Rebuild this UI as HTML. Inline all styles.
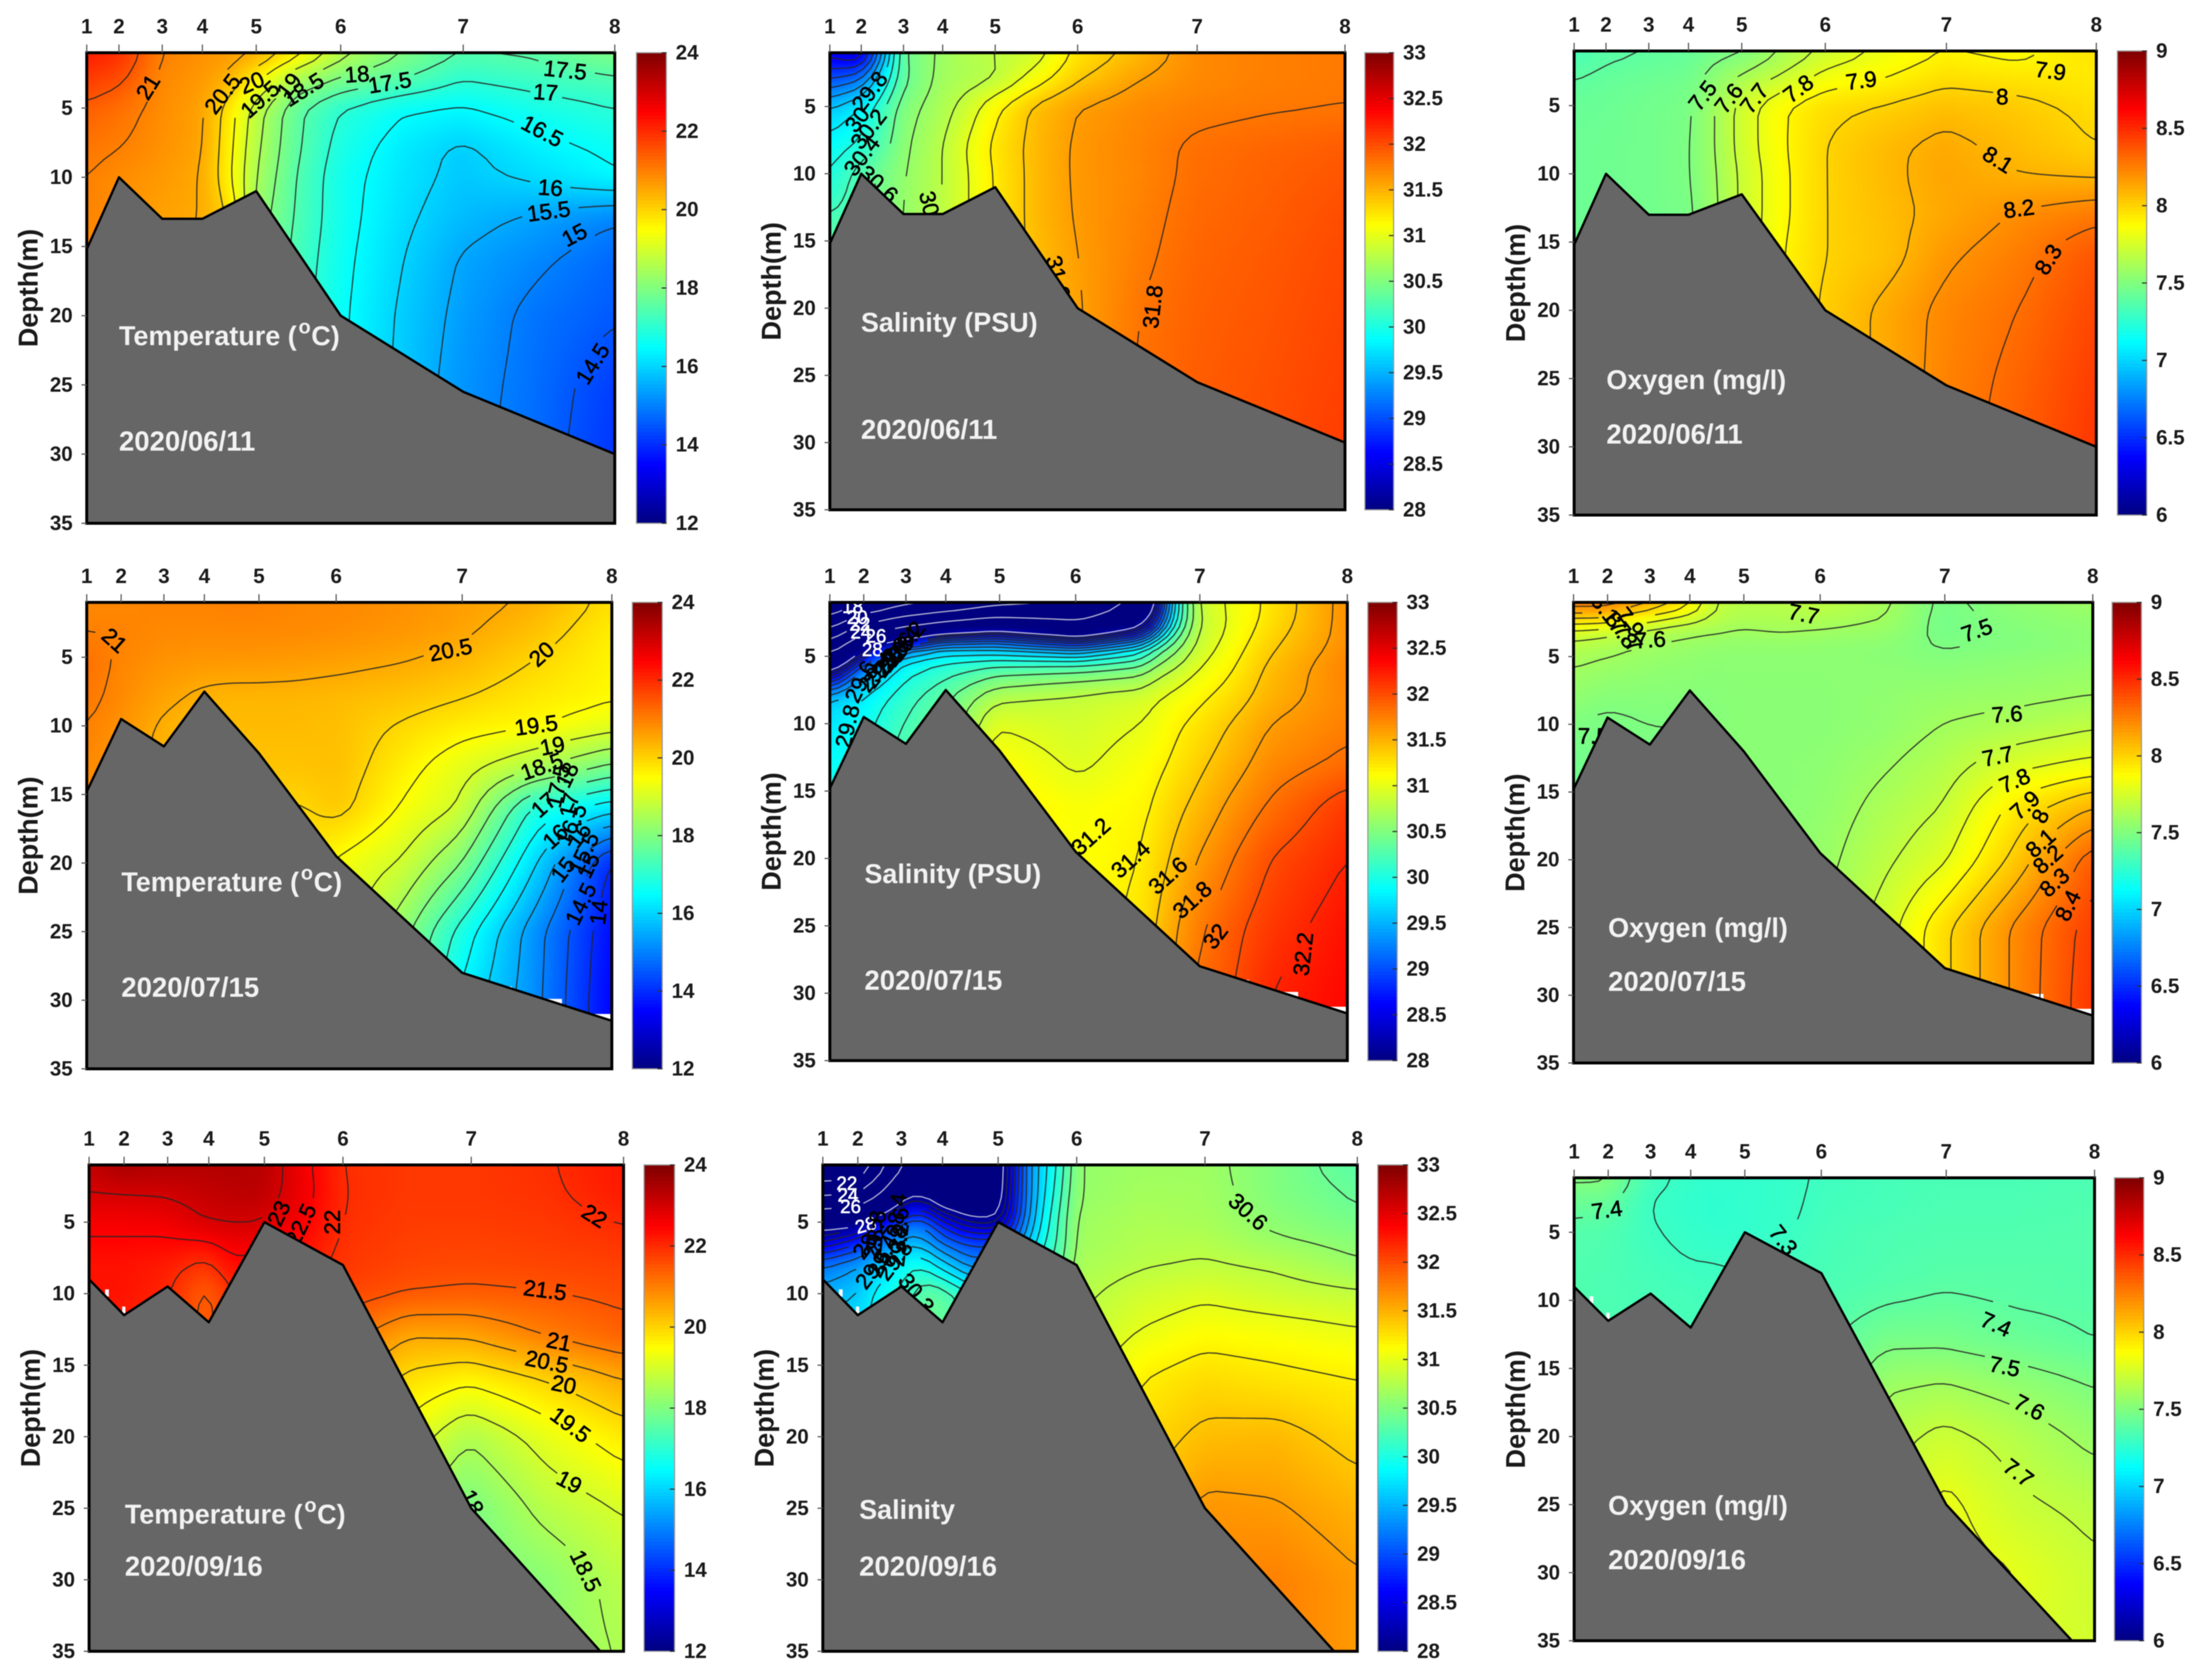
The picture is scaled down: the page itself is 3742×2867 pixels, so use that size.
<!DOCTYPE html>
<html lang="en">
<head>
<meta charset="utf-8">
<title>Temperature, salinity and oxygen sections</title>
<style>
html,body{margin:0;padding:0;background:#fff;width:3742px;height:2867px;overflow:hidden}
svg{display:block;font-family:"Liberation Sans",Arial,sans-serif;filter:blur(0.9px)}
</style>
</head>
<body>
<svg id="fig" xmlns="http://www.w3.org/2000/svg" width="3742" height="2867" viewBox="0 0 3742 2867"></svg>
<script>
/* ---------- shared axis data ---------- */
const stationNames=["1","2","3","4","5","6","7","8"];
const stationsJune=[0,.061,.143,.219,.321,.481,.713,1];
const stationsLater=[0,.0655,.147,.224,.328,.475,.715,1];
const depthTicks=[5,10,15,20,25,30,35];
const tempTicks=[12,14,16,18,20,22,24];
const salTicks=[28,28.5,29,29.5,30,30.5,31,31.5,32,32.5,33];
const oxyTicks=[6,6.5,7,7.5,8,8.5,9];

/* ---------- seabed depth at each station ---------- */
const groundJune=[15.2,10,13,13,11,20,25.5,30];
const groundJuneOxy=[15.2,10,13,13,11.5,20,25.5,30];
const groundJuly=[14.8,9.5,11.5,7.5,12,19.5,28,31.5];
const groundSept=[9,11.5,9.5,12,5,8,25,36.8];

/* ---------- standard sampling grid (section fraction, depth in m) ---------- */
const colsStd=[0,.06,.14,.22,.27,.32,.40,.48,.60,.71,.85,1];
const depthsStd=[1,3,5,8,10,13,16,20,25,30,35];

/* ---------- measured fields ---------- */
const tempJune=[
[22.2,22,21,20.8,20.7,20.5,19.7,18.7,18,17.5,17.6,18],
[21.8,21.6,20.9,20.7,20.4,19.6,18.4,17.9,17.5,17,17.2,17.4],
[21.4,21.2,20.85,20.6,19.75,18.75,17.6,17,16.55,16.45,16.75,17],
[21.1,21,20.8,20.55,19.65,18.6,17.55,16.8,16.25,15.9,16.3,16.6],
[21,20.85,20.7,20.5,19.6,18.5,17.45,16.7,16.2,15.85,16.1,16.45],
[20.95,20.8,20.6,20.5,20,18.3,17.4,16.7,16.1,15.7,15.4,15.05],
[20.9,20.8,20.6,20.4,19.5,18.2,17.3,16.65,16,15.45,15.1,14.7],
[20.9,20.8,20.6,20.4,19.5,18,17.2,16.6,15.9,15.35,14.85,14.55],
[20.9,20.8,20.6,20.4,19.5,18,17.2,16.6,15.85,15.25,14.8,14.2],
[20.9,20.8,20.6,20.4,19.5,18,17.2,16.6,15.8,15.2,14.75,14.1],
[20.9,20.8,20.6,20.4,19.5,18,17.2,16.6,15.8,15.2,14.7,14.1]];
const salJune=[
[28.5,28.3,30.4,30.65,30.75,30.8,30.9,31.25,31.47,31.7,31.75,31.78],
[29,29.2,30.35,30.68,30.72,30.78,31.1,31.38,31.6,31.7,31.75,31.78],
[29.6,29.8,30.5,30.72,30.9,31.15,31.45,31.6,31.7,31.75,31.78,31.8],
[29.9,30.05,30.55,30.8,31.03,31.25,31.47,31.63,31.73,31.83,31.88,31.93],
[30,30.3,30.58,30.8,31,31.22,31.47,31.63,31.72,31.84,31.9,31.96],
[30.2,30.3,30.6,30.8,31,31.22,31.47,31.62,31.74,31.86,31.92,32],
[30.4,30.4,30.6,30.8,31,31.25,31.45,31.6,31.76,31.88,31.94,32.02],
[30.4,30.4,30.6,30.8,31,31.25,31.45,31.58,31.8,31.9,31.96,32.04],
[30.4,30.4,30.6,30.8,31,31.25,31.45,31.58,31.82,31.92,31.98,32.06],
[30.4,30.4,30.6,30.8,31,31.25,31.45,31.58,31.82,31.92,32,32.08],
[30.4,30.4,30.6,30.8,31,31.25,31.45,31.58,31.82,31.92,32,32.08]];
const oxyJune=[
[7.33,7.38,7.4,7.42,7.47,7.48,7.61,7.72,7.83,7.9,7.87,7.96],
[7.4,7.42,7.44,7.46,7.54,7.62,7.72,7.84,7.9,7.97,7.95,7.93],
[7.43,7.44,7.46,7.48,7.6,7.74,7.89,7.97,8.01,8.06,8.03,7.97],
[7.44,7.45,7.46,7.49,7.6,7.74,7.89,8,8.08,8.13,8.07,8],
[7.44,7.45,7.46,7.49,7.59,7.72,7.88,8,8.08,8.14,8.1,8.08],
[7.44,7.45,7.46,7.48,7.58,7.72,7.88,8,8.07,8.13,8.21,8.27],
[7.44,7.45,7.46,7.48,7.58,7.72,7.9,8,8.06,8.18,8.26,8.38],
[7.44,7.45,7.46,7.48,7.58,7.72,7.9,8.02,8.13,8.23,8.3,8.42],
[7.44,7.45,7.46,7.48,7.58,7.72,7.9,8.02,8.13,8.24,8.33,8.45],
[7.44,7.45,7.46,7.48,7.58,7.72,7.9,8.02,8.14,8.25,8.35,8.47],
[7.44,7.45,7.46,7.48,7.58,7.72,7.9,8.02,8.14,8.25,8.35,8.47]];
const tempJuly=[
[20.9,20.9,20.95,20.95,21,21,20.9,20.9,20.8,20.65,20.45,19.85],
[20.98,20.98,20.9,20.9,20.9,20.9,20.9,20.85,20.75,20.6,20.25,19.7],
[21.2,20.95,20.8,20.75,20.75,20.75,20.7,20.65,20.55,20.4,20.02,19.62],
[21.1,20.9,20.6,20.4,20.35,20.35,20.35,20.3,20.2,20.02,19.75,19.55],
[21,20.8,20.45,20.3,20.3,20.3,20.3,20.25,19.95,19.7,19.55,19.2],
[20.9,20.7,20.4,20.2,20.2,20.2,20.2,20.25,19.7,19.2,18.6,17.9],
[20.85,20.65,20.35,20.15,20.15,20.1,19.95,20.15,19.45,18.95,16.9,16.2],
[20.8,20.6,20.3,20.1,20.1,20,19.9,19.4,18.95,18.05,16.1,13.9],
[20.8,20.6,20.3,20.1,20.1,20,19.8,19.3,18.2,16.85,15.25,13.6],
[20.8,20.6,20.3,20.1,20.1,20,19.8,19.3,18,16.4,15.2,13.5],
[20.8,20.6,20.3,20.1,20.1,20,19.8,19.3,18,16.4,15.2,13.5]];
const colsSalJuly=[0,.06,.14,.22,.32,.48,.6,.63,.66,.71,.78,.85,1];
const depthsSalJuly=[1,2,3,4,5,6,8,10,13,16,20,25,30,35];
const salJuly=[
[18,20,21,22,23,24,26.5,28,29.7,30.85,31.05,31.25,31.68],
[20,22,24,25,26,25.5,27.5,28.6,29.7,30.8,31.05,31.25,31.68],
[22,25,26.5,27.5,28,27,28,28.9,30,30.8,31.05,31.3,31.68],
[24.5,27.5,28.7,29.3,29.3,28.9,29.6,30.1,30.4,30.85,31.1,31.35,31.68],
[26.5,28.5,29.7,29.9,29.9,29.8,30.1,30.4,30.6,30.9,31.15,31.4,31.72],
[28,29.3,29.9,30.1,30.3,30.4,30.5,30.7,30.8,31,31.2,31.45,31.75],
[29.6,29.8,30.1,30.35,30.75,30.85,30.92,30.98,31.05,31.15,31.3,31.5,31.72],
[29.75,29.9,30.2,30.4,30.98,30.9,31,31.05,31.15,31.25,31.42,31.6,31.75],
[29.9,30,30.3,30.5,31.15,30.96,31.1,31.15,31.22,31.35,31.52,31.7,31.85],
[30,30.1,30.3,30.5,31.2,31.1,31.15,31.22,31.32,31.45,31.65,31.82,32.1],
[30,30.1,30.3,30.5,31.2,31.1,31.2,31.3,31.42,31.6,31.8,32,32.2],
[30,30.1,30.3,30.5,31.2,31.1,31.25,31.4,31.55,31.75,31.95,32.1,32.3],
[30,30.1,30.3,30.5,31.2,31.1,31.3,31.45,31.6,31.85,32,32.2,32.35],
[30,30.1,30.3,30.5,31.2,31.1,31.3,31.45,31.6,31.85,32,32.2,32.35]];
const depthsOxyJuly=[1,2,3,4,5,8,10,13,16,20,25,30,35];
const oxyJuly=[
[8.3,8.3,8.15,7.95,7.7,7.67,7.68,7.7,7.62,7.48,7.55,7.6],
[8.05,8.05,7.9,7.8,7.7,7.64,7.63,7.65,7.6,7.47,7.52,7.55],
[7.78,7.75,7.68,7.62,7.62,7.6,7.63,7.6,7.58,7.47,7.52,7.55],
[7.68,7.65,7.6,7.58,7.56,7.55,7.55,7.55,7.53,7.49,7.5,7.53],
[7.62,7.6,7.57,7.55,7.54,7.54,7.54,7.54,7.53,7.51,7.53,7.55],
[7.55,7.52,7.52,7.52,7.52,7.53,7.53,7.53,7.55,7.57,7.58,7.6],
[7.5,7.48,7.5,7.5,7.52,7.53,7.53,7.53,7.55,7.6,7.63,7.68],
[7.46,7.46,7.48,7.5,7.52,7.53,7.53,7.54,7.59,7.65,7.77,7.83],
[7.46,7.46,7.48,7.5,7.52,7.53,7.53,7.55,7.63,7.7,7.93,8.09],
[7.46,7.46,7.48,7.5,7.52,7.53,7.54,7.57,7.68,7.78,8.03,8.36],
[7.46,7.46,7.48,7.5,7.52,7.53,7.55,7.6,7.75,7.97,8.22,8.45],
[7.46,7.46,7.48,7.5,7.52,7.53,7.55,7.6,7.75,7.97,8.22,8.47],
[7.46,7.46,7.48,7.5,7.52,7.53,7.55,7.6,7.75,7.97,8.22,8.47]];
const tempSept=[
[23.2,23.55,23.4,23.4,23.4,23.4,22.65,21.95,21.85,21.85,21.95,22.25],
[23,23,23.05,23.2,23.3,23.3,22.7,21.98,21.85,21.85,21.92,22.2],
[22.6,22.6,22.65,23,23.02,23,22.55,21.95,21.8,21.8,21.85,22.02],
[22.3,22.3,22.2,21.85,22.4,22.3,22.2,21.85,21.7,21.65,21.7,21.75],
[22.3,22.3,22.1,21.35,22,22.1,22,21.7,21.48,21.42,21.48,21.6],
[22.2,22.1,22,21.3,21.9,22,21.9,21.2,20.5,20.55,21,21.35],
[22.1,22,21.9,21.3,21.8,21.8,21.5,20.5,19.85,19.6,20,20.5],
[22,22,21.8,21.3,21.7,21.6,21,20,19.3,18.55,19.2,19.75],
[22,22,21.8,21.3,21.7,21.6,20.5,19.5,18.5,17.9,18.65,19.05],
[22,22,21.8,21.3,21.7,21.6,20.5,19.5,18.5,17.9,18.1,18.7],
[22,22,21.8,21.3,21.7,21.6,20.5,19.5,18.5,17.9,18.2,18.55]];
const colsSalSept=[0,.066,.105,.147,.186,.224,.28,.329,.345,.37,.40,.44,.475,.6,.714,.85,1];
const depthsSalSept=[1,3,4,5,6,8,10,12,14,16,20,25,30,35];
const salSept=[
[20,20,23,26,27,27,27.5,27.8,28,29,29.6,30,30.6,30.65,30.65,30.5,30.3],
[23.5,24,26,27.9,27.9,27.5,27.5,27.7,28.2,29,29.6,30.1,30.6,30.68,30.67,30.5,30.38],
[26,26.5,27.5,28.3,28.6,27.9,27.7,27.8,28.3,29,29.65,30.15,30.62,30.7,30.68,30.53,30.4],
[27.7,27.8,28.5,29,29.2,28.7,28.1,28.1,28.5,29.1,29.7,30.2,30.65,30.72,30.7,30.56,30.46],
[28.2,28.6,29,29.4,29.4,29,28.8,28.8,28.9,29.3,29.8,30.2,30.65,30.74,30.74,30.6,30.52],
[29.2,29.4,29.6,29.9,30,29.7,29.3,29.4,29.6,29.7,30,30.3,30.7,30.78,30.82,30.77,30.63],
[29.5,29.6,29.9,30.05,30.35,30.35,30,29.9,30,30.05,30.2,30.5,30.75,30.9,30.96,30.88,30.83],
[29.7,29.7,29.9,30.05,30.4,30.4,30.1,30,30.05,30.1,30.3,30.5,30.8,30.98,31.08,31.04,30.98],
[29.7,29.7,29.9,30.05,30.4,30.4,30.1,30,30.05,30.1,30.3,30.5,30.85,31.1,31.2,31.16,31.1],
[29.7,29.7,29.9,30.05,30.4,30.4,30.1,30,30.05,30.1,30.3,30.5,30.9,31.2,31.3,31.25,31.2],
[29.7,29.7,29.9,30.05,30.4,30.4,30.1,30,30.05,30.1,30.3,30.5,31,31.3,31.45,31.47,31.33],
[29.7,29.7,29.9,30.05,30.4,30.4,30.1,30,30.05,30.1,30.3,30.5,31.1,31.4,31.65,31.62,31.5],
[29.7,29.7,29.9,30.05,30.4,30.4,30.1,30,30.05,30.1,30.3,30.5,31.1,31.4,31.7,31.75,31.62],
[29.7,29.7,29.9,30.05,30.4,30.4,30.1,30,30.05,30.1,30.3,30.5,31.1,31.4,31.7,31.75,31.62]];
const oxySept=[
[7.52,7.52,7.33,7.28,7.27,7.27,7.28,7.31,7.33,7.34,7.34,7.35],
[7.43,7.42,7.3,7.27,7.26,7.27,7.28,7.32,7.33,7.35,7.35,7.36],
[7.37,7.36,7.31,7.28,7.27,7.27,7.29,7.33,7.35,7.36,7.36,7.37],
[7.36,7.35,7.33,7.31,7.31,7.3,7.31,7.34,7.36,7.38,7.38,7.37],
[7.36,7.35,7.34,7.33,7.32,7.32,7.33,7.35,7.39,7.41,7.39,7.38],
[7.36,7.35,7.34,7.33,7.33,7.33,7.34,7.38,7.48,7.48,7.44,7.4],
[7.36,7.35,7.34,7.33,7.33,7.33,7.34,7.4,7.58,7.6,7.55,7.49],
[7.36,7.35,7.34,7.33,7.33,7.33,7.34,7.45,7.66,7.73,7.66,7.57],
[7.36,7.35,7.34,7.33,7.33,7.33,7.34,7.45,7.7,7.83,7.72,7.67],
[7.36,7.35,7.34,7.33,7.33,7.33,7.34,7.45,7.7,7.85,7.8,7.72],
[7.36,7.35,7.34,7.33,7.33,7.33,7.34,7.45,7.7,7.85,7.78,7.74]];

/* ---------- contour levels ---------- */
const levelsTempJune=[14.5,15,15.5,16,16.5,17,17.5,18,18.5,19,19.5,20,20.5,21,21.5];
const levelsSalJune=[28.6,28.8,29,29.2,29.4,29.6,29.8,30,30.2,30.4,30.6,30.8,31,31.2,31.4,31.6,31.8];
const levelsOxyJune=[7.4,7.5,7.6,7.7,7.8,7.9,8,8.1,8.2,8.3];
const levelsTempJuly=[14,14.5,15,15.5,16,16.5,17,17.5,18,18.5,19,19.5,20,20.5,21];
const levelsSalJuly=[18,20,22,24,26,28,28.2,28.4,28.6,28.8,29,29.2,29.4,29.6,29.8,30,30.2,30.4,30.6,30.8,31,31.2,31.4,31.6,31.8,32,32.2];
const levelsOxyJuly=[7.5,7.6,7.7,7.8,7.9,8,8.1,8.2,8.3,8.4];
const levelsTempSept=[18,18.5,19,19.5,20,20.5,21,21.5,22,22.5,23,23.5];
const levelsSalSept=[22,24,26,28,28.2,28.4,28.6,28.8,29,29.2,29.4,29.6,29.8,30,30.2,30.4,30.6,30.8,31,31.2,31.4,31.6];
const levelsOxySept=[7.3,7.4,7.5,7.6,7.7,7.8];

/* ---------- printed contour labels: text, section fraction, depth, angle ---------- */
const labelsTempJune=[["17.5",.906,2.3,8],["17",.869,3.9,5],["16.5",.862,6.7,35],["16",.878,10.8,5],["15.5",.875,12.5,-10],["15",.924,14.2,-35],["14.5",.959,23.5,-65],["17.5",.574,3.2,-12],["18",.512,2.6,-5],["18.5",.411,3.7,-40],["19",.384,3.4,-60],["19.5",.329,4.4,-50],["20",.313,3.2,-30],["20.5",.258,4,-60],["21",.117,3.5,-65]];
const labelsSalJune=[["29.8",.078,3.9,-60],["30",.054,6,-60],["30.2",.076,6.7,-60],["30.4",.063,8.7,-60],["31.8",.628,19.9,-85],["31.6",.442,17.7,80],["30.6",.094,10.8,50],["30.8",.196,12.9,80]];
const labelsOxyJune=[["7.9",.912,2.5,10],["8",.82,4.4,0],["8.1",.811,9,40],["8.2",.852,12.6,-10],["8.3",.909,16.3,-65],["7.9",.55,3.2,-10],["7.8",.43,3.8,-45],["7.7",.346,4.5,-60],["7.6",.297,4.5,-60],["7.5",.247,4.3,-60]];
const labelsTempJuly=[["21",.052,3.8,50],["20.5",.693,4.5,-15],["20",.867,4.8,-50],["19.5",.856,10,-10],["19",.887,11.5,-15],["18.5",.867,13,-25],["18",.916,13.6,-70],["17.5",.898,14.4,-80],["17",.871,15.8,-50],["17",.92,15.8,-80],["16.5",.924,17.2,-70],["16",.893,18.1,-50],["16",.938,18,-60],["15.5",.947,19.3,-70],["15",.908,20.5,-60],["15",.956,20.2,-70],["14.5",.942,23,-70],["14",.976,23.6,-85]];
const labelsSalJuly=[["18",.044,1.3,0],["20",.053,2.1,0],["22",.058,2.6,0],["24",.06,3.2,0],["26",.089,3.5,0],["28",.082,4.5,0],["28.2",.15,3.9,-60],["28.4",.14,4.3,-60],["28.6",.13,4.7,-60],["28.8",.12,5.1,-60],["29",.11,5.5,-60],["29.2",.1,5.9,-60],["29.4",.09,6.2,-60],["29.6",.06,6.9,-70],["29.8",.035,10.2,-80],["31.2",.505,18.4,-50],["31.4",.582,20.1,-50],["31.6",.654,21.3,-50],["31.8",.701,23.1,-50],["32",.746,25.8,-60],["32.2",.916,27.1,-85]];
const labelsOxyJuly=[["7.7",.443,1.9,15],["7.5",.777,3.1,-25],["7.6",.148,3.8,-5],["7.6",.835,9.3,-5],["7.7",.817,12.4,-15],["7.8",.85,14.2,-30],["7.9",.87,16,-50],["8",.9,16.8,-70],["8.1",.9,18.8,-50],["8.2",.914,20,-50],["8.3",.927,21.7,-50],["8.4",.953,23.4,-70],["8.1",.06,1.5,60],["8",.077,2.3,60],["7.9",.108,2.5,60],["7.8",.095,3.3,60],["7.7",.104,3.6,60],["7.5",.038,10.9,0]];
const labelsTempSept=[["23",.356,4.4,-70],["22.5",.397,5.2,-70],["22",.456,5,-90],["22",.945,4.6,40],["21.5",.853,9.8,10],["21",.879,13.4,15],["20.5",.856,14.8,15],["20",.888,16.4,15],["19.5",.9,19.2,45],["19",.898,23.2,35],["18.5",.928,29.4,70],["18",.716,24.6,70]];
const labelsSalSept=[["22",.045,2.3,0],["24",.047,3.1,0],["26",.052,3.9,0],["28",.08,5.2,-20],["29.8",.135,7.7,-60],["29.6",.095,8.3,-60],["28.2",.09,6.2,-60],["28.4",.139,4.5,-85],["28.6",.143,5.5,-85],["28.8",.1,5.7,-85],["29",.095,6.7,-80],["29.2",.143,6.6,-85],["29.4",.113,7.4,-70],["30.3",.174,10,60],["30.6",.795,4.3,50]];
const labelsOxySept=[["7.4",.063,3.4,-10],["7.3",.401,5.6,60],["7.4",.81,11.8,30],["7.5",.827,14.9,15],["7.6",.874,17.9,35],["7.7",.853,22.7,45]];

/* ---------- missing-data specks by the seabed: fraction from, fraction to, depth from, depth to ---------- */
const gapsJuly=[[.96,1,31,31.7],[.86,.905,29.9,30.6],[.79,.81,29,29.5]];
const gapsSept=[[.03,.037,9.7,10.2],[.062,.068,10.9,11.4]];
const gapsNone=[];

/* ---------- panel layout ---------- */
const panels=[
{id:"temperature-june",title:"Temperature (",sup:true,date:"2020/06/11",L:148,R:1049,T:90,B:893,cbL:1086,cbR:1137,vmin:12,vmax:24,ticks:tempTicks,st:stationsJune,gr:groundJune,cols:colsStd,deps:depthsStd,vals:tempJune,lev:levelsTempJune,lab:labelsTempJune,gaps:gapsNone,tx:203,ty:589,dy:769},
{id:"salinity-june",title:"Salinity (PSU)",date:"2020/06/11",L:1416,R:2295,T:90,B:870,cbL:2329,cbR:2378,vmin:28,vmax:33,ticks:salTicks,st:stationsJune,gr:groundJune,cols:colsStd,deps:depthsStd,vals:salJune,lev:levelsSalJune,lab:labelsSalJune,gaps:gapsNone,tx:1469,ty:566,dy:749},
{id:"oxygen-june",title:"Oxygen (mg/l)",date:"2020/06/11",L:2686,R:3577,T:87,B:879,cbL:3613,cbR:3663,vmin:6,vmax:9,ticks:oxyTicks,st:stationsJune,gr:groundJuneOxy,cols:colsStd,deps:depthsStd,vals:oxyJune,lev:levelsOxyJune,lab:labelsOxyJune,gaps:gapsNone,tx:2741,ty:664,dy:757},
{id:"temperature-july",title:"Temperature (",sup:true,date:"2020/07/15",L:148,R:1044,T:1028,B:1824,cbL:1079,cbR:1130,vmin:12,vmax:24,ticks:tempTicks,st:stationsLater,gr:groundJuly,cols:colsStd,deps:depthsStd,vals:tempJuly,lev:levelsTempJuly,lab:labelsTempJuly,gaps:gapsJuly,tx:207,ty:1521,dy:1701},
{id:"salinity-july",title:"Salinity (PSU)",date:"2020/07/15",L:1416,R:2299,T:1028,B:1810,cbL:2334,cbR:2384,vmin:28,vmax:33,ticks:salTicks,st:stationsLater,gr:groundJuly,cols:colsSalJuly,deps:depthsSalJuly,vals:salJuly,lev:levelsSalJuly,lab:labelsSalJuly,gaps:gapsJuly,whiteTo:28,tx:1475,ty:1507,dy:1689},
{id:"oxygen-july",title:"Oxygen (mg/l)",date:"2020/07/15",L:2685,R:3571,T:1028,B:1814,cbL:3604,cbR:3654,vmin:6,vmax:9,ticks:oxyTicks,st:stationsLater,gr:groundJuly,cols:colsStd,deps:depthsOxyJuly,vals:oxyJuly,lev:levelsOxyJuly,lab:labelsOxyJuly,gaps:gapsJuly,tx:2744,ty:1599,dy:1691},
{id:"temperature-september",title:"Temperature (",sup:true,date:"2020/09/16",L:152,R:1064,T:1988,B:2818,cbL:1099,cbR:1151,vmin:12,vmax:24,ticks:tempTicks,st:stationsLater,gr:groundSept,cols:colsStd,deps:depthsStd,vals:tempSept,lev:levelsTempSept,lab:labelsTempSept,gaps:gapsSept,tx:213,ty:2600,dy:2689},
{id:"salinity-september",title:"Salinity",date:"2020/09/16",L:1404,R:2316,T:1988,B:2818,cbL:2351,cbR:2402,vmin:28,vmax:33,ticks:salTicks,st:stationsLater,gr:groundSept,cols:colsSalSept,deps:depthsSalSept,vals:salSept,lev:levelsSalSept,lab:labelsSalSept,gaps:gapsSept,whiteTo:28,tx:1466,ty:2592,dy:2689},
{id:"oxygen-september",title:"Oxygen (mg/l)",date:"2020/09/16",L:2686,R:3574,T:2010,B:2800,cbL:3608,cbR:3658,vmin:6,vmax:9,ticks:oxyTicks,st:stationsLater,gr:groundSept,cols:colsStd,deps:depthsStd,vals:oxySept,lev:levelsOxySept,lab:labelsOxySept,gaps:gapsSept,tx:2744,ty:2585,dy:2678}
];

/* ---------- helpers ---------- */
const NS="http://www.w3.org/2000/svg";
const fig=document.getElementById("fig");
function mk(tag,attrs,parent,text){
  const e=document.createElementNS(NS,tag);
  for(const k in attrs)e.setAttribute(k,attrs[k]);
  if(text!==undefined)e.textContent=text;
  parent.appendChild(e);
  return e;
}
function clamp01(v){return v<0?0:v>1?1:v;}
function jet(t){
  t=clamp01(t);
  const r=clamp01(1.5-Math.abs(4*t-3)),g=clamp01(1.5-Math.abs(4*t-2)),b=clamp01(1.5-Math.abs(4*t-1));
  return "rgb("+Math.round(r*255)+","+Math.round(g*255)+","+Math.round(b*255)+")";
}
function findIdx(arr,v){
  let i=0;
  while(i<arr.length-2&&v>arr[i+1])i++;
  return i;
}
function sampleField(p,f,d){
  f=clamp01(f);
  d=Math.max(p.deps[0],Math.min(p.deps[p.deps.length-1],d));
  const i=findIdx(p.cols,f),j=findIdx(p.deps,d);
  const u=(f-p.cols[i])/(p.cols[i+1]-p.cols[i]),v=(d-p.deps[j])/(p.deps[j+1]-p.deps[j]);
  const a=p.vals[j][i],b=p.vals[j][i+1],c=p.vals[j+1][i],e=p.vals[j+1][i+1];
  return a*(1-u)*(1-v)+b*u*(1-v)+c*(1-u)*v+e*u*v;
}
function groundAt(p,f){
  const i=findIdx(p.st,f);
  const u=(f-p.st[i])/(p.st[i+1]-p.st[i]);
  return p.gr[i]+(p.gr[i+1]-p.gr[i])*u;
}

const CELL=14,PAD=2;

panels.forEach(function(p){
  const W=p.R-p.L,H=p.B-p.T;
  const xOf=function(f){return p.L+f*W;};
  const yOf=function(d){return p.T+(d-1)/34*H;};

  const g=mk("g",{},fig);
  
  

  const clipId="clip-"+p.id;
  const defs=mk("defs",{},g);
  const cp=mk("clipPath",{id:clipId},defs);
  mk("rect",{x:p.L,y:p.T,width:W,height:H},cp);

  /* sample the field on a fine lattice and smooth it */
  const nx=Math.ceil(W/CELL)+1,ny=Math.ceil(H/CELL)+1;
  const tw=nx+2*PAD,th=ny+2*PAD;
  let grid=[];
  for(let j=0;j<th;j++){
    const row=[];
    for(let i=0;i<tw;i++){
      row.push(sampleField(p,(i-PAD)*CELL/W,1+(j-PAD)*CELL/H*34));
    }
    grid.push(row);
  }
  const smooth=[];
  for(let j=0;j<th;j++){
    const row=[];
    for(let i=0;i<tw;i++){
      let s=0,n=0;
      for(let b=-1;b<=1;b++)for(let a=-1;a<=1;a++){
        if(grid[j+b]&&grid[j+b][i+a]!==undefined){s+=grid[j+b][i+a];n++;}
      }
      row.push(s/n);
    }
    smooth.push(row);
  }
  grid=smooth;
  const gx=function(i){return p.L+(i-PAD)*CELL;};
  const gy=function(j){return p.T+(j-PAD)*CELL;};

  /* heatmap cells */
  const clipG=mk("g",{"clip-path":"url(#"+clipId+")"},g);
  
  
  const blurG=mk("g",{style:"filter:blur(5px)"},clipG);
  for(let j=0;j<th;j++){
    for(let i=0;i<tw;i++){
      const f=clamp01((i-PAD)*CELL/W),d=1+(j-PAD)*CELL/H*34;
      if(d>groundAt(p,f)+2.5)continue;
      const c=mk("rect",{x:gx(i)-CELL/2,y:gy(j)-CELL/2,width:CELL+1,height:CELL+1,fill:jet((grid[j][i]-p.vmin)/(p.vmax-p.vmin))},blurG);
      
      
    }
  }

  /* contours by marching squares */
  const contourG=mk("g",{"clip-path":"url(#"+clipId+")",fill:"none"},g);
  
  
  p.lev.forEach(function(level){
    const gapsAt=p.lab.filter(function(l){return parseFloat(l[0])===level;}).map(function(l){
      return {x:xOf(l[1]),y:yOf(l[2]),r:l[0].length*10+10};
    });
    let path="";
    for(let j=0;j<th-1;j++){
      for(let i=0;i<tw-1;i++){
        const a=grid[j][i],b=grid[j][i+1],c=grid[j+1][i+1],e=grid[j+1][i];
        const pts=[];
        const x0=gx(i),x1=gx(i+1),y0=gy(j),y1=gy(j+1);
        if((a<level)!==(b<level))pts.push([x0+(level-a)/(b-a)*CELL,y0]);
        if((b<level)!==(c<level))pts.push([x1,y0+(level-b)/(c-b)*CELL]);
        if((e<level)!==(c<level))pts.push([x0+(level-e)/(c-e)*CELL,y1]);
        if((a<level)!==(e<level))pts.push([x0,y0+(level-a)/(e-a)*CELL]);
        for(let k=0;k+1<pts.length;k+=2){
          const mx=(pts[k][0]+pts[k+1][0])/2,my=(pts[k][1]+pts[k+1][1])/2;
          let skip=false;
          gapsAt.forEach(function(q){if(Math.hypot(mx-q.x,my-q.y)<q.r)skip=true;});
          if(skip)continue;
          path+="M"+pts[k][0].toFixed(1)+" "+pts[k][1].toFixed(1)+"L"+pts[k+1][0].toFixed(1)+" "+pts[k+1][1].toFixed(1);
        }
      }
    }
    const white=p.whiteTo!==undefined&&level<=p.whiteTo;
    const line=mk("path",{d:path,stroke:white?"#c9c9dd":"#262626","stroke-width":"2.2","stroke-opacity":"0.85","stroke-linecap":"round"},contourG);
    
    
  });

  /* contour labels */
  const labG=mk("g",{"clip-path":"url(#"+clipId+")"},g);
  
  
  p.lab.forEach(function(l){
    const white=p.whiteTo!==undefined&&parseFloat(l[0])<=p.whiteTo;
    const x=xOf(l[1]),y=yOf(l[2]);
    const ang=Math.atan(Math.tan(l[3]*Math.PI/180)*0.752)*180/Math.PI;
    const t=mk("text",{x:x,y:y,"text-anchor":"middle","dominant-baseline":"central","font-size":white?"32":"38",fill:white?"#ffffff":"#000000",stroke:white?"#ffffff":"#000000","stroke-width":"0.9",transform:"rotate("+ang.toFixed(1)+" "+x.toFixed(1)+" "+y.toFixed(1)+")"},labG,l[0]);
    
    
  });

  /* white specks of missing data */
  p.gaps.forEach(function(q){
    const s=mk("rect",{x:xOf(q[0]),y:yOf(q[2]),width:xOf(q[1])-xOf(q[0]),height:yOf(q[3])-yOf(q[2]),fill:"#ffffff"},clipG);
    
    
  });

  /* seabed */
  let pts=xOf(0)+","+p.B;
  let top="";
  p.gr.forEach(function(d,i){
    const s=xOf(p.st[i]).toFixed(1)+","+yOf(d).toFixed(1);
    pts+=" "+s;
    top+=s+" ";
  });
  pts+=" "+xOf(1)+","+p.B;
  const groundG=mk("g",{"clip-path":"url(#"+clipId+")"},g);
  const poly=mk("polygon",{points:pts,fill:"#666666"},groundG);
  
  
  const edge=mk("polyline",{points:top,fill:"none",stroke:"#000000","stroke-width":"4","stroke-linejoin":"round"},groundG);
  
  

  /* frame */
  const frame=mk("rect",{x:p.L,y:p.T,width:W,height:H,fill:"none",stroke:"#000000","stroke-width":"5"},g);
  
  

  /* station axis */
  stationNames.forEach(function(n,i){
    const x=xOf(p.st[i]);
    const tk=mk("line",{x1:x,x2:x,y1:p.T-14,y2:p.T,stroke:"#555555","stroke-width":"2"},g);
    
    
    const t=mk("text",{x:x,y:p.T-33,"text-anchor":"middle","font-size":"35","font-weight":"bold",fill:"#1a1a1a"},g,n);
    
    
  });

  /* depth axis */
  depthTicks.forEach(function(d){
    const y=yOf(d);
    const tk=mk("line",{x1:p.L-9,x2:p.L,y1:y,y2:y,stroke:"#555555","stroke-width":"2"},g);
    
    
    const t=mk("text",{x:p.L-24,y:y,"text-anchor":"end","dominant-baseline":"central","font-size":"35","font-weight":"bold",fill:"#1a1a1a"},g,String(d));
    
    
  });
  const yc=(p.T+p.B)/2,xb=p.L-84;
  const yt=mk("text",{x:xb,y:yc,"text-anchor":"middle","font-size":"46","font-weight":"bold",fill:"#1a1a1a",transform:"rotate(-90 "+xb+" "+yc+")"},g,"Depth(m)");
  
  

  /* panel title and date */
  const title=mk("text",{x:p.tx,y:p.ty,"font-size":"46","font-weight":"bold",fill:"#f2f2f2"},g,p.title);
  
  
  if(p.sup){
    mk("tspan",{dy:"-20",dx:"3","font-size":"34"},title,"o");
    mk("tspan",{dy:"20",dx:"1"},title,"C)");
  }
  const date=mk("text",{x:p.tx,y:p.dy,"font-size":"47","font-weight":"bold",fill:"#f2f2f2"},g,p.date);
  
  

  /* colour bar */
  const cb=mk("g",{},g);
  
  
  const steps=128,cbH=p.B-p.T;
  for(let i=0;i<steps;i++){
    const r=mk("rect",{x:p.cbL,y:p.B-(i+1)*cbH/steps,width:p.cbR-p.cbL,height:cbH/steps+1,fill:jet((i+.5)/steps)},cb);
    
    
  }
  const border=mk("rect",{x:p.cbL,y:p.T,width:p.cbR-p.cbL,height:cbH,fill:"none",stroke:"#9a9a9a","stroke-width":"2"},cb);
  
  
  p.ticks.forEach(function(v){
    const y=p.B-(v-p.vmin)/(p.vmax-p.vmin)*cbH;
    const tk=mk("line",{x1:p.cbR-8,x2:p.cbR,y1:y,y2:y,stroke:"#333333","stroke-width":"2"},cb);
    
    
    const t=mk("text",{x:p.cbR+16,y:y,"dominant-baseline":"central","font-size":"35","font-weight":"bold",fill:"#1a1a1a"},cb,String(v));
    
    
  });
});
</script>
</body>
</html>
